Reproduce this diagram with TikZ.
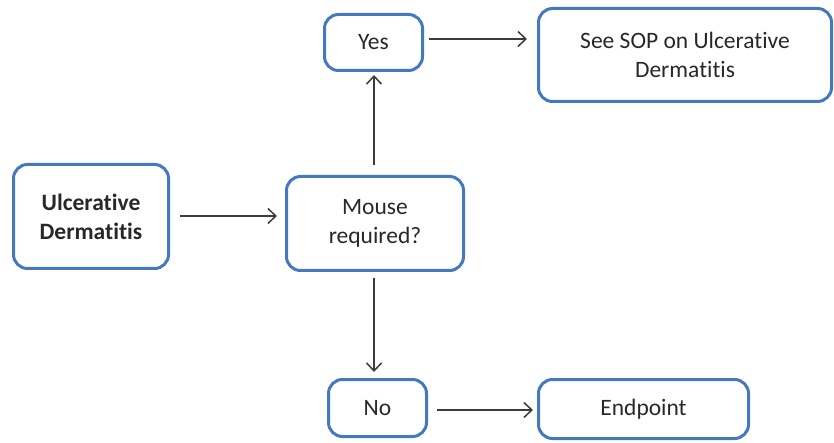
\documentclass[tikz,border=0pt]{standalone}
\usepackage{fontspec}
\setmainfont[Ligatures=NoCommon]{Carlito}
\usetikzlibrary{arrows.meta}
\definecolor{boxblue}{RGB}{70,120,190}
\definecolor{arrgray}{RGB}{60,60,60}
\definecolor{txtgray}{RGB}{40,40,40}
\begin{document}
\begin{tikzpicture}[x=1pt,y=-1pt,
  box/.style={draw=boxblue, line width=3pt, rounded corners=14pt, fill=white,
    align=center, text=txtgray, inner sep=0pt,
    font=\fontsize{23.5}{29}\selectfont},
  arr/.style={draw=arrgray, line width=1.5pt, -{Straight Barb[length=8pt,width=15pt]}}]
\useasboundingbox (0,0) rectangle (834,443);
\node[box, minimum width=155pt, minimum height=104pt, font=\fontsize{23.5}{29}\selectfont\bfseries] (ud) at (91,216.5) {Ulcerative\\Dermatitis};
\node[box, minimum width=177pt, minimum height=94pt] (mouse) at (375,223.5) {Mouse\\required?};
\node[box, minimum width=98pt, minimum height=56pt] (yes) at (373.5,42.5) {Yes};
\node[box, minimum width=293pt, minimum height=93pt] (sop) at (685,55) {See SOP on Ulcerative\\Dermatitis};
\node[box, minimum width=98pt, minimum height=57pt] (no) at (377.5,408) {No};
\node[box, minimum width=210pt, minimum height=59pt] (end) at (643.5,409) {Endpoint};
\coordinate (a1) at (ud.east |- 0,216);
\draw[arr, shorten <=10pt, shorten >=8pt] (a1) -- (a1 -| mouse.west);
\coordinate (a2) at (mouse.north -| 374,0);
\draw[arr, shorten <=10pt, shorten >=3pt] (a2) -- (a2 |- yes.south);
\coordinate (a3) at (yes.east |- 0,39);
\draw[arr, shorten <=5pt, shorten >=10pt] (a3) -- (a3 -| sop.west);
\coordinate (a4) at (mouse.south -| 374,0);
\draw[arr, shorten <=6pt, shorten >=6pt] (a4) -- (a4 |- no.north);
\coordinate (a5) at (no.east |- 0,410);
\draw[arr, shorten <=9pt, shorten >=4pt] (a5) -- (a5 -| end.west);
\end{tikzpicture}
\end{document}
